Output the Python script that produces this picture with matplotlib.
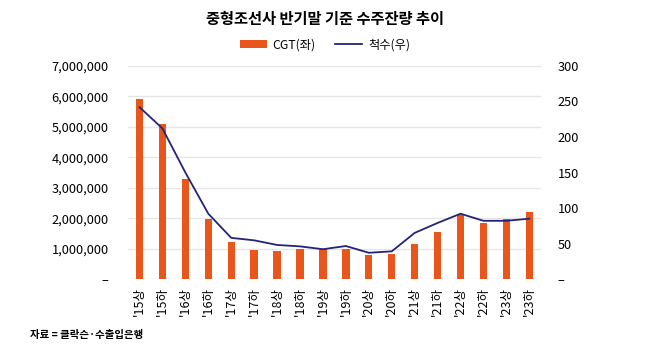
import matplotlib

matplotlib.use("Agg")
import matplotlib.pyplot as plt  # noqa: E402
import numpy as np  # noqa: E402
from matplotlib.ticker import FuncFormatter  # noqa: E402

plt.rcParams["font.family"] = ["Noto Sans CJK KR", "DejaVu Sans"]

CATEGORIES = ["'15상", "'15하", "'16상", "'16하", "'17상", "'17하", "'18상", "'18하",
              "'19상", "'19하", "'20상", "'20하", "'21상", "'21하", "'22상", "'22하",
              "'23상", "'23하"]
CGT = [5930000, 5090000, 3290000, 1960000, 1220000, 970000, 910000, 990000,
       990000, 1000000, 800000, 830000, 1150000, 1560000, 2150000, 1840000,
       1980000, 2190000]
SHIPS = [242, 212, 150, 92, 58, 54.5, 48, 46, 42, 46.5, 37, 39, 65, 79, 92, 82, 82, 85]

BAR_COLOR = "#E8561B"
LINE_COLOR = "#23237A"
GRID_COLOR = "#E6E6E6"


def left_fmt(v, _):
    return "–" if v == 0 else f"{v:,.0f}"


def right_fmt(v, _):
    return "–" if v == 0 else f"{v:.0f}"


def main() -> None:
    fig = plt.figure(figsize=(6.5, 3.51), dpi=100)
    ax = fig.add_axes([0.197, 0.205, 0.635, 0.607])
    ax2 = ax.twinx()

    x = np.arange(len(CATEGORIES))
    ax.bar(x, CGT, width=0.32, color=BAR_COLOR, label="CGT(좌)", zorder=2)
    ax2.plot(x, SHIPS, color=LINE_COLOR, lw=1.3, label="척수(우)", zorder=3)

    ax.set_xlim(-0.5, len(CATEGORIES) - 0.5)
    ax.set_ylim(0, 7000000)
    ax2.set_ylim(0, 300)
    ax.set_yticks(np.arange(0, 7000001, 1000000))
    ax2.set_yticks(np.arange(0, 301, 50))
    ax.yaxis.set_major_formatter(FuncFormatter(left_fmt))
    ax2.yaxis.set_major_formatter(FuncFormatter(right_fmt))
    ax.set_xticks(x)
    ax.set_xticklabels(CATEGORIES, rotation=90, fontsize=9)
    ax.tick_params(axis="y", labelsize=9.2, length=0, pad=14)
    ax2.tick_params(axis="y", labelsize=9.2, length=0, pad=12)
    ax.tick_params(axis="x", length=0, pad=6)
    ax.grid(axis="y", color=GRID_COLOR, lw=1, zorder=0)
    ax.set_axisbelow(True)
    for a in (ax, ax2):
        for s in a.spines.values():
            s.set_visible(False)

    fig.text(0.5, 0.945, "중형조선사 반기말 기준 수주잔량 추이", ha="center", va="center",
             fontsize=11, fontweight="bold")
    h1, l1 = ax.get_legend_handles_labels()
    h2, l2 = ax2.get_legend_handles_labels()
    fig.legend(h1 + h2, l1 + l2, loc="center", bbox_to_anchor=(0.5, 0.873), ncol=2,
               frameon=False, fontsize=8.8, handlelength=2.2, handleheight=0.6,
               columnspacing=1.6, handletextpad=0.5)
    fig.text(0.046, 0.045, "자료 = 클락슨·수출입은행", ha="left", va="center",
             fontsize=7.5, fontweight="bold")

    fig.savefig("out.png", dpi=100)


if __name__ == "__main__":
    main()
